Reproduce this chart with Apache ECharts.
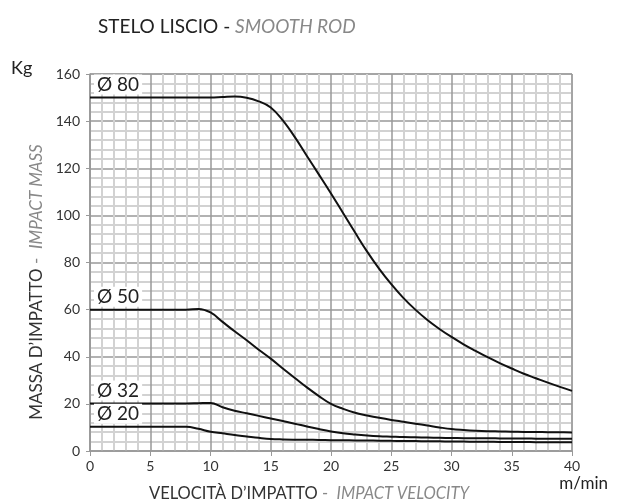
<!DOCTYPE html>
<html>
<head>
<meta charset="utf-8">
<script src="https://cdn.jsdelivr.net/npm/echarts@6/dist/echarts.min.js"></script>
<style>
  html, body { margin: 0; padding: 0; background: #fff; }
  #chart { width: 619px; height: 503px; }
</style>
</head>
<body>
<div id="chart"></div>
<script>
// velocità d'impatto (m/min)
var velocity = [0, 2, 4, 6, 8, 9, 10, 11, 12, 13, 14, 15, 16, 17, 18, 19, 20, 21, 22, 23, 24, 25, 26, 27, 28, 29, 30, 31, 32, 33, 34, 35, 36, 37, 38, 39, 40];
// massa d'impatto (kg) per diametro stelo
var d80 = [150, 150, 150, 150, 150, 150, 150, 150.2, 150.4, 149.9, 148.4, 145.8, 140.3, 133.2, 125.2, 117.3, 109.3, 101, 92.7, 84.6, 77.3, 70.8, 65, 60, 55.6, 51.8, 48.4, 45.3, 42.5, 39.8, 37.3, 35, 32.8, 30.9, 29, 27.2, 25.5];
var d50 = [60, 60, 60, 60, 60, 60.3, 58.8, 54.8, 50.8, 47, 43, 39.2, 35, 31, 27, 23.3, 20, 17.9, 16.2, 15.1, 14.1, 13.2, 12.4, 11.6, 10.8, 10, 9.3, 8.9, 8.6, 8.4, 8.3, 8.2, 8.1, 8.05, 8, 7.95, 7.9];
var d32 = [20.2, 20.2, 20.2, 20.2, 20.2, 20.3, 20.4, 18.6, 17.1, 16, 14.9, 13.8, 12.7, 11.6, 10.4, 9.3, 8.3, 7.5, 7, 6.6, 6.3, 6.1, 5.9, 5.8, 5.7, 5.6, 5.5, 5.45, 5.4, 5.4, 5.35, 5.3, 5.3, 5.25, 5.2, 5.2, 5.2];
var d20 = [10.3, 10.3, 10.3, 10.3, 10.3, 9.4, 8.2, 7.5, 6.8, 6.2, 5.6, 5.1, 4.9, 4.8, 4.75, 4.7, 4.6, 4.55, 4.5, 4.45, 4.4, 4.3, 4.25, 4.2, 4.15, 4.1, 4.0, 3.98, 3.95, 3.9, 3.85, 3.8, 3.78, 3.76, 3.74, 3.72, 3.7];
var seriesNames = ['Ø 80', 'Ø 50', 'Ø 32', 'Ø 20'];
var seriesValues = [d80, d50, d32, d20];

var FONT = 'Lato';

function makeSeries(name, vals) {
    return {
        name: name,
        type: 'line',
        smooth: 0.4,
        showSymbol: false,
        lineStyle: { color: '#111', width: 2 },
        data: velocity.map(function (v, i) { return [v, vals[i]]; }),
        markPoint: {
            silent: true,
            symbol: 'rect',
            symbolSize: 0,
            data: [{ coord: [velocity[0], vals[0]] }],
            label: {
                show: true,
                position: [4, -23],
                formatter: name,
                color: '#222',
                fontFamily: FONT,
                fontSize: 19,
                backgroundColor: '#fff',
                padding: [1, 3, 0, 3]
            }
        }
    };
}

var myChart = echarts.init(document.getElementById('chart'));
var option = {
    backgroundColor: '#fff',
    animation: false,
    title: {
        text: '{a|STELO LISCIO - }{b|SMOOTH ROD}',
        left: 93,
        top: 12,
        textStyle: {
            rich: {
                a: { color: '#222', fontSize: 19, fontFamily: FONT, fontWeight: 'normal' },
                b: { color: '#888', fontSize: 19, fontFamily: FONT, fontWeight: 'normal', fontStyle: 'italic' }
            }
        }
    },
    grid: { left: 90, right: 47, top: 74, bottom: 52, show: true, borderColor: '#999', borderWidth: 1 },
    xAxis: {
        type: 'value',
        min: 0, max: 40, interval: 5,
        axisLine: { lineStyle: { color: '#999', width: 1.5 } },
        axisTick: { show: true, length: 5, lineStyle: { color: '#999' } },
        axisLabel: { color: '#333', fontSize: 14, fontFamily: FONT, margin: 8 },
        splitLine: { show: true, lineStyle: { color: '#999', width: 1.5 } },
        minorTick: { show: false, splitNumber: 5 },
        minorSplitLine: { show: true, lineStyle: { color: '#d2d2d2', width: 2 } }
    },
    yAxis: {
        type: 'value',
        min: 0, max: 160, interval: 20,
        axisLine: { show: true, lineStyle: { color: '#999', width: 1.5 } },
        axisTick: { show: true, length: 4, lineStyle: { color: '#999' } },
        axisLabel: { color: '#333', fontSize: 14, fontFamily: FONT, margin: 10 },
        splitLine: { show: true, lineStyle: { color: '#999', width: 1.5 } },
        minorTick: { show: false, splitNumber: 5 },
        minorSplitLine: { show: true, lineStyle: { color: '#d2d2d2', width: 2 } }
    },
    graphic: [
        {
            type: 'text', left: 11, top: 59,
            style: { text: 'Kg', fill: '#222', font: '18px Lato' }
        },
        {
            type: 'text', right: 11, top: 475,
            style: { text: 'm/min', fill: '#222', font: '17px Lato' }
        },
        {
            type: 'text', x: 309, y: 494,
            style: {
                text: '{a|VELOCITÀ D\u2019IMPATTO}{b| -  }{c|IMPACT VELOCITY}',
                align: 'center', verticalAlign: 'middle',
                rich: {
                    a: { fill: '#333', fontSize: 16.5, fontFamily: FONT },
                    b: { fill: '#888', fontSize: 16.5, fontFamily: FONT },
                    c: { fill: '#888', fontSize: 16.5, fontFamily: FONT, fontStyle: 'italic' }
                }
            }
        },
        {
            type: 'text', x: 37, y: 282, rotation: Math.PI / 2,
            style: {
                text: '{a|MASSA D\u2019IMPATTO}{b| -  }{c|IMPACT MASS}',
                align: 'center', verticalAlign: 'middle',
                rich: {
                    a: { fill: '#333', fontSize: 17, fontFamily: FONT },
                    b: { fill: '#888', fontSize: 17, fontFamily: FONT },
                    c: { fill: '#888', fontSize: 17, fontFamily: FONT, fontStyle: 'italic' }
                }
            }
        }
    ],
    series: seriesNames.map(function (n, i) { return makeSeries(n, seriesValues[i]); })
};
myChart.setOption(option);
</script>
</body>
</html>
